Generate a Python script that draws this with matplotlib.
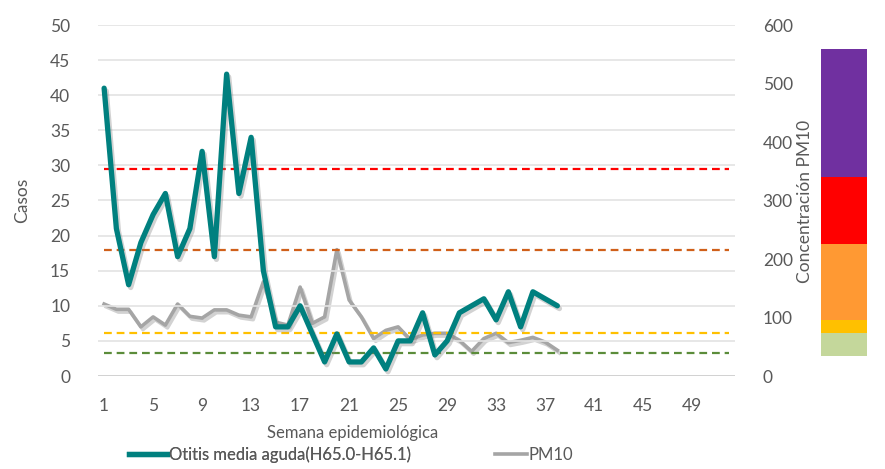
import matplotlib
matplotlib.use("Agg")
import matplotlib.pyplot as plt
import matplotlib.patheffects as pe
from matplotlib.lines import Line2D

# ---- data ----
weeks = list(range(1, 53))
otitis_weeks = list(range(1, 39))
otitis = [41, 21, 13, 19, 23, 26, 17, 21, 32, 17, 43, 26, 34, 15, 7, 7, 10, 6, 2, 6,
          2, 2, 4, 1, 5, 5, 9, 3, 5, 9, 10, 11, 8, 12, 7, 12, 11, 10]
pm10 = [123, 114, 114, 84, 101, 87, 123, 102, 99, 113, 113, 104, 101, 161, 92, 87, 152, 90, 101, 216,
        130, 101, 64, 78, 84, 62, 70, 73, 73, 61, 42, 64, 73, 57, 61, 66, 58, 44]
thresholds = [29.5, 17.9, 6.1, 3.3]
threshold_colors = ['#FF0000', '#D0601A', '#FFC000', '#5B8C3A']
band_bounds = [34, 73, 95, 225, 340, 559]
band_colors = ['#C4D79B', '#FFC000', '#FF9933', '#FF0000', '#7030A0']
left_ticks = list(range(0, 51, 5))
right_ticks = list(range(0, 601, 100))
x_ticks = list(range(1, 53, 4))
series_names = ['Otitis media aguda(H65.0-H65.1)', 'PM10']

plt.rcParams['font.family'] = ['Lato', 'DejaVu Sans']
txt = '#595959'
W, H = 885, 469
fig = plt.figure(figsize=(W / 100, H / 100), dpi=100)

L, R, T, B = 98, 735, 25, 376
ax = fig.add_axes([L / W, 1 - B / H, (R - L) / W, (B - T) / H])
ax2 = ax.twinx()

ax.set_xlim(0.5, 52.5)
ax.set_ylim(0, 50)
ax2.set_ylim(0, 600)
for a in (ax, ax2):
    for s in a.spines.values():
        s.set_visible(False)
ax.set_yticks(left_ticks)
ax.grid(axis='y', color='#E3E3E3', lw=1.2)
ax.axhline(0, color='#D0D0D0', lw=2)
ax.set_axisbelow(True)
ax.set_xticks(x_ticks)
ax.tick_params(axis='both', length=0, labelsize=12.5, colors=txt)
ax.tick_params(axis='y', pad=20)
ax.tick_params(axis='x', pad=16)
ax2.set_yticks(right_ticks)
ax2.tick_params(axis='y', length=0, labelsize=12.5, colors=txt, pad=20)

shadow = [pe.SimpleLineShadow(offset=(1.5, -2), shadow_color='#808080', alpha=0.35), pe.Normal()]

for v, c in zip(thresholds, threshold_colors):
    ax.plot(weeks, [v] * len(weeks), color=c, lw=1.6, ls=(0, (3.5, 2.2)), zorder=3)

ax2.plot(otitis_weeks, pm10, color='#A5A5A5', lw=2.6, solid_joinstyle='round',
         path_effects=shadow, zorder=4)
ax.set_zorder(ax2.get_zorder() + 1)
ax.patch.set_visible(False)
ax.plot(otitis_weeks, otitis, color='#00807F', lw=3.8, solid_joinstyle='round',
        solid_capstyle='round', path_effects=shadow, zorder=5)

fig.text(22 / W, 1 - 200 / H, 'Casos', rotation=90, ha='center', va='center',
         fontsize=12.5, color=txt)
fig.text(805 / W, 1 - 201 / H, 'Concentración PM10', rotation=90, ha='center', va='center',
         fontsize=12.5, color=txt)
fig.text(353 / W, 1 - 433 / H, 'Semana epidemiológica', ha='center', va='center',
         fontsize=12, color=txt)

# colour scale bar
axc = fig.add_axes([821 / W, 1 - B / H, 46 / W, (B - T) / H])
axc.set_ylim(0, 600)
axc.set_xlim(0, 1)
axc.axis('off')
for lo, hi, c in zip(band_bounds[:-1], band_bounds[1:], band_colors):
    axc.bar(0.5, hi - lo, bottom=lo, width=1, color=c, lw=0)

leg1 = fig.legend([Line2D([], [], color='#00807F', lw=3.8)], [series_names[0]],
                  loc='center left', bbox_to_anchor=(129 / W, 1 - 455 / H), frameon=False,
                  fontsize=12, labelcolor=txt, handlelength=2.3, handletextpad=0.1,
                  borderpad=0, borderaxespad=0)
fig.legend([Line2D([], [], color='#A5A5A5', lw=2.6)], [series_names[1]],
           loc='center left', bbox_to_anchor=(495 / W, 1 - 455 / H), frameon=False,
           fontsize=12, labelcolor=txt, handlelength=1.9, handletextpad=0.1,
           borderpad=0, borderaxespad=0)
fig.add_artist(leg1)

fig.savefig('out.png', dpi=100)
